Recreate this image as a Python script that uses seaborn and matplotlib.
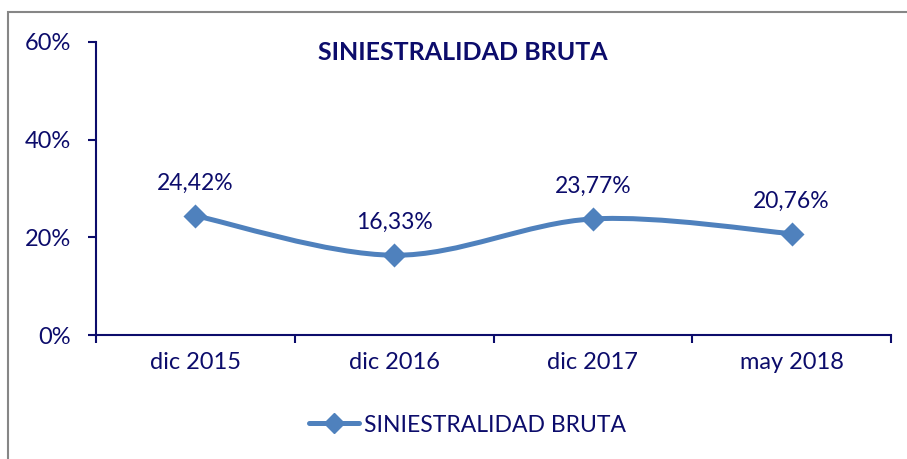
import matplotlib
matplotlib.use('Agg')
import matplotlib.pyplot as plt
import seaborn as sns
import pandas as pd
from matplotlib.path import Path
from matplotlib.patches import PathPatch, Rectangle
from matplotlib.lines import Line2D
from matplotlib.ticker import PercentFormatter, FixedLocator

periods = ['dic 2015', 'dic 2016', 'dic 2017', 'may 2018']
siniestralidad = [24.42, 16.33, 23.77, 20.76]
value_labels = ['24,42%', '16,33%', '23,77%', '20,76%']
y_ticks = [0, 20, 40, 60]
series_name = 'SINIESTRALIDAD BRUTA'

LINE_COLOR = '#4F81BD'
TEXT_COLOR = '#0C0C6B'

sns.set_style('white')
plt.rcParams['font.family'] = ['Lato', 'DejaVu Sans']

df = pd.DataFrame({'periodo': periods, 'valor': siniestralidad})
df['pos'] = range(len(df))

fig = plt.figure(figsize=(9.07, 4.59), dpi=100)
ax = fig.add_axes([96 / 907, 1 - 335 / 459, (891 - 96) / 907, (335 - 42) / 459])

# smoothed line (Excel-style Bezier through the points)
pts = list(zip(df['pos'], df['valor']))
verts = [pts[0]]
codes = [Path.MOVETO]
for i in range(len(pts) - 1):
    p0 = pts[i - 1] if i > 0 else pts[i]
    p1 = pts[i]
    p2 = pts[i + 1]
    p3 = pts[i + 2] if i + 2 < len(pts) else pts[i + 1]
    c1 = (p1[0] + (p2[0] - p0[0]) / 6, p1[1] + (p2[1] - p0[1]) / 6)
    c2 = (p2[0] - (p3[0] - p1[0]) / 6, p2[1] - (p3[1] - p1[1]) / 6)
    verts += [c1, c2, p2]
    codes += [Path.CURVE4] * 3
ax.add_patch(PathPatch(Path(verts, codes), facecolor='none', edgecolor=LINE_COLOR,
                       lw=3.6, capstyle='round', joinstyle='round', zorder=3))

sns.scatterplot(data=df, x='pos', y='valor', marker='D', s=150, color=LINE_COLOR,
                edgecolor=LINE_COLOR, linewidth=0, ax=ax, zorder=4, legend=False)

for x, y, lab in zip(df['pos'], df['valor'], value_labels):
    ax.annotate(lab, (x, y), xytext=(0, 16), textcoords='offset points',
                ha='center', va='bottom', fontsize=16.5, color=TEXT_COLOR)

ax.set_xlim(-0.5, len(periods) - 0.5)
ax.set_ylim(0, 60)
ax.yaxis.set_major_locator(FixedLocator(y_ticks))
ax.yaxis.set_major_formatter(PercentFormatter(decimals=0))
ax.xaxis.set_major_locator(FixedLocator([i - 0.5 for i in range(len(periods) + 1)]))
ax.xaxis.set_major_formatter(plt.NullFormatter())
ax.xaxis.set_minor_locator(FixedLocator(list(df['pos'])))
ax.set_xticklabels(periods, minor=True)
ax.tick_params(axis='x', which='major', bottom=True, direction='out', length=6, width=1.5,
               color=TEXT_COLOR)
ax.tick_params(axis='x', which='minor', bottom=True, length=0, pad=12, labelsize=17,
               labelcolor=TEXT_COLOR)
ax.tick_params(axis='y', left=True, direction='out', length=6, width=1.5, color=TEXT_COLOR,
               labelsize=17, labelcolor=TEXT_COLOR, pad=12)
ax.set_xlabel('')
ax.set_ylabel('')
for side in ['top', 'right']:
    ax.spines[side].set_visible(False)
for side in ['left', 'bottom']:
    ax.spines[side].set_color(TEXT_COLOR)
    ax.spines[side].set_linewidth(1.5)

fig.text(463 / 907, 1 - 52 / 459, series_name, ha='center', va='center',
         fontsize=18, fontweight='bold', color=TEXT_COLOR)

handle = Line2D([], [], color=LINE_COLOR, lw=3.6, marker='D', markersize=10,
                solid_capstyle='round')
fig.legend([handle], [series_name], loc='center', bbox_to_anchor=(467 / 907, 1 - 425 / 459),
           frameon=False, fontsize=16.5, labelcolor=TEXT_COLOR, handlelength=2.2,
           handletextpad=0.2)

fig.patches.append(Rectangle((8 / 907, -0.2), 1.2, 1 - 12 / 459 + 0.2,
                             transform=fig.transFigure, fill=False,
                             edgecolor='#868686', lw=1.5))

plt.savefig('out.png', dpi=100)
plt.close()
